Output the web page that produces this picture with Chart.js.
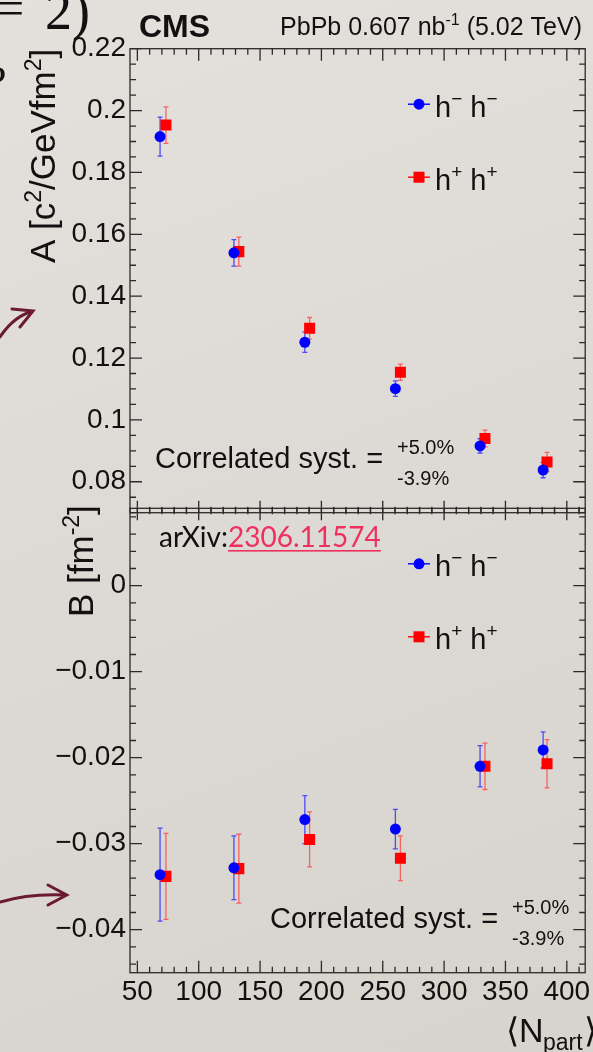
<!DOCTYPE html>
<html>
<head>
<meta charset="utf-8">
<script src="https://cdn.jsdelivr.net/npm/chart.js@4.4.0/dist/chart.umd.min.js"></script>
<style>
  html, body { margin: 0; padding: 0; }
  body {
    width: 593px; height: 1052px; overflow: hidden; position: relative;
    background: linear-gradient(160deg, #e4e1dd 0%, #dddad5 50%, #d7d4ce 100%);
  }
  canvas { position: absolute; left: 0; top: 0; }
</style>
</head>
<body>
<canvas id="panelA" width="593" height="1052"></canvas>
<canvas id="panelB" width="593" height="1052"></canvas>
<script>
// <Npart> of each centrality bin, h+h+ points drawn a little to the right
const npartMinus = [68.5, 128.7, 186.5, 260.3, 329.3, 380.7];
const npartPlus = [73.3, 132.7, 190.4, 264.4, 333.3, 383.9];

// Levy fit parameter A [c^2/GeV fm^2]
const aMinus = [0.1916, 0.1540, 0.1251, 0.1101, 0.0916, 0.0838];
const aMinusErr = [0.0063, 0.0043, 0.0033, 0.0025, 0.0023, 0.0025];
const aPlus = [0.1953, 0.1544, 0.1296, 0.1154, 0.0940, 0.0864];
const aPlusErr = [0.0059, 0.0047, 0.0035, 0.0026, 0.0027, 0.0031];

// Levy fit parameter B [fm^-2]
const bMinus = [-0.0336, -0.0328, -0.0272, -0.0283, -0.0210, -0.0191];
const bMinusErr = [0.0054, 0.0037, 0.0028, 0.0023, 0.0024, 0.0021];
const bPlus = [-0.0338, -0.0329, -0.0295, -0.0317, -0.0210, -0.0207];
const bPlusErr = [0.0050, 0.0040, 0.0032, 0.0026, 0.0027, 0.0028];

const nTicks = [50, 100, 150, 200, 250, 300, 350, 400];
const aTicks = [0.08, 0.1, 0.12, 0.14, 0.16, 0.18, 0.2, 0.22];
const bTicks = [-0.04, -0.03, -0.02, -0.01, 0];

const SANS = '"Liberation Sans", Arial, sans-serif';
const INK = '#111';
const BLUE = '#0000ff';
const RED = '#ff0000';

function points(xs, ys) {
  return xs.map((x, i) => ({ x: x, y: ys[i] }));
}

// draws a run of text pieces [text, size, rise, weight] and returns end x
function runText(ctx, x, y, parts, measureOnly) {
  let cx = x;
  parts.forEach(([t, size, rise = 0, weight = '']) => {
    ctx.font = `${weight} ${size}px ${SANS}`;
    if (!measureOnly) ctx.fillText(t, cx, y - rise);
    cx += ctx.measureText(t).width;
  });
  return cx;
}

function seg(ctx, x1, y1, x2, y2) {
  ctx.moveTo(x1, y1);
  ctx.lineTo(x2, y2);
}

// vertical error bars with small caps, drawn under the markers
const errorBars = {
  id: 'errorBars',
  beforeDatasetsDraw(chart) {
    const { ctx, scales: { x, y } } = chart;
    chart.data.datasets.forEach(ds => {
      ctx.save();
      ctx.strokeStyle = ds.errorColor;
      ctx.lineWidth = 1.3;
      ctx.beginPath();
      ds.data.forEach((p, j) => {
        const px = x.getPixelForValue(p.x);
        const hi = y.getPixelForValue(p.y + ds.errors[j]);
        const lo = y.getPixelForValue(p.y - ds.errors[j]);
        seg(ctx, px, hi, px, lo);
        seg(ctx, px - 2.5, hi, px + 2.5, hi);
        seg(ctx, px - 2.5, lo, px + 2.5, lo);
      });
      ctx.stroke();
      ctx.restore();
    });
  }
};

// ROOT style frame: ticks inside on all four sides
const frame = {
  id: 'frame',
  afterDatasetsDraw(chart, args, opts) {
    const { ctx, chartArea: a, scales: { x, y } } = chart;
    ctx.save();
    ctx.strokeStyle = '#2a2a2a';
    ctx.lineWidth = 1.3;
    ctx.strokeRect(a.left, a.top, a.right - a.left, a.bottom - a.top);
    ctx.beginPath();
    for (let v = 50; v <= x.max; v += 10) {
      const px = x.getPixelForValue(v);
      const len = v % 50 === 0 ? 12 : 6;
      seg(ctx, px, a.top, px, a.top + len);
      seg(ctx, px, a.bottom, px, a.bottom - len);
    }
    const n0 = Math.ceil(y.min / opts.minor - 1e-6);
    const n1 = Math.floor(y.max / opts.minor + 1e-6);
    for (let n = n0; n <= n1; n++) {
      const py = y.getPixelForValue(n * opts.minor);
      const len = n % opts.every === 0 ? 12 : 6;
      seg(ctx, a.left, py, a.left + len, py);
      seg(ctx, a.right, py, a.right - len, py);
    }
    ctx.stroke();
    ctx.restore();
  }
};

// legend entries and texts placed inside each pad
const labels = {
  id: 'labels',
  afterDraw(chart, args, opts) {
    const { ctx, chartArea: a } = chart;
    ctx.save();
    ctx.fillStyle = INK;
    ctx.textBaseline = 'alphabetic';
    // legend
    [[BLUE, 'circle', '\u2212', 55.5], [RED, 'rect', '+', 128.5]].forEach(([c, shape, sign, dy]) => {
      const my = a.top + dy;
      ctx.strokeStyle = c;
      ctx.lineWidth = 1.4;
      ctx.beginPath();
      seg(ctx, 408, my, 430, my);
      ctx.stroke();
      ctx.fillStyle = c;
      ctx.beginPath();
      if (shape === 'circle') ctx.arc(419, my, 5.5, 0, Math.PI * 2);
      else ctx.rect(413.5, my - 5.5, 11, 11);
      ctx.fill();
      ctx.fillStyle = INK;
      runText(ctx, 435, my + 12.5, [['h', 29], [sign, 19, 12], [' h', 29], [sign, 19, 12]]);
    });
    // correlated systematic
    const s = opts.syst;
    runText(ctx, s.x, s.y, [['Correlated syst. =', 29]]);
    runText(ctx, s.x + 242, s.y - 14, [['+5.0%', 20]]);
    runText(ctx, s.x + 242, s.y + 17, [['-3.9%', 20]]);
    if (opts.draw) opts.draw(ctx, a);
    ctx.restore();
  }
};

function arrow(ctx, from, ctrl, tip, barbA, barbB) {
  ctx.beginPath();
  ctx.moveTo(from[0], from[1]);
  ctx.quadraticCurveTo(ctrl[0], ctrl[1], tip[0], tip[1]);
  ctx.moveTo(barbA[0], barbA[1]);
  ctx.lineTo(tip[0], tip[1]);
  ctx.lineTo(barbB[0], barbB[1]);
  ctx.stroke();
}

function yAxis(min, max, tickValues, fmt) {
  return {
    min: min,
    max: max,
    afterBuildTicks: s => { s.ticks = tickValues.map(v => ({ value: v })); },
    afterFit: s => { s.width = 130; s.paddingTop = 0; s.paddingBottom = 0; },
    grid: { display: false, drawTicks: false },
    border: { display: false },
    ticks: { color: INK, padding: 4, font: { family: SANS, size: 28 }, callback: fmt }
  };
}

function xAxis(show) {
  return {
    type: 'linear',
    min: 44,
    max: 415,
    display: show,
    afterBuildTicks: s => { s.ticks = nTicks.map(v => ({ value: v })); },
    afterFit: s => { s.height = show ? 79.3 : 0; s.paddingLeft = 0; s.paddingRight = 0; },
    grid: { display: false, drawTicks: false },
    border: { display: false },
    ticks: { color: INK, padding: 3, autoSkip: false, maxRotation: 0, font: { family: SANS, size: 28 } }
  };
}

function datasets(ys, ysErr, yp, ypErr) {
  return [
    {
      label: 'h\u2212 h\u2212',
      data: points(npartMinus, ys),
      errors: ysErr,
      errorColor: 'rgba(40, 40, 255, 0.8)',
      pointStyle: 'circle',
      pointRadius: 5.5,
      pointBackgroundColor: BLUE,
      pointBorderWidth: 0
    },
    {
      label: 'h+ h+',
      data: points(npartPlus, yp),
      errors: ypErr,
      errorColor: 'rgba(255, 60, 60, 0.75)',
      pointStyle: 'rect',
      pointRadius: 7.8,
      pointBackgroundColor: RED,
      pointBorderWidth: 0
    }
  ];
}

const common = {
  responsive: false,
  animation: false,
  events: [],
  plugins: { legend: { display: false }, tooltip: { enabled: false } }
};

new Chart(document.getElementById('panelA'), {
  type: 'scatter',
  data: { datasets: datasets(aMinus, aMinusErr, aPlus, aPlusErr) },
  options: {
    ...common,
    layout: { padding: { top: 48.7, left: 0, right: 1, bottom: 1052 - 512.7 } },
    scales: {
      x: xAxis(false),
      y: yAxis(0.07, 0.22, aTicks, v => String(v))
    },
    plugins: {
      ...common.plugins,
      frame: { minor: 0.005, every: 4 },
      labels: {
        syst: { x: 155, y: 468 },
        draw(ctx) {
          // header
          runText(ctx, 139, 37, [['CMS', 32, 0, 'bold']]);
          const lumi = [['PbPb 0.607 nb', 25], ['-1', 16, 10], [' (5.02 TeV)', 25]];
          const w = runText(ctx, 0, 0, lumi, true);
          runText(ctx, 582 - w, 35, lumi);
          // y title of the upper pad
          ctx.save();
          ctx.translate(55, 263);
          ctx.rotate(-Math.PI / 2);
          runText(ctx, 0, 0, [['A [c', 35], ['2', 23, 14], ['/GeVfm', 35], ['2', 23, 14], [']', 35]]);
          ctx.restore();
          // bits of the slide around the figure
          ctx.font = '50px "Liberation Serif", serif';
          ctx.fillText('=', -4, 25);
          ctx.font = '54px "Liberation Serif", serif';
          ctx.fillText('2)', 45, 29);
          ctx.font = '44px "Liberation Serif", serif';
          ctx.fillText('?', -13, 96);
          ctx.strokeStyle = '#6b1a33';
          ctx.lineWidth = 3;
          ctx.lineCap = 'round';
          arrow(ctx, [0, 337], [14, 316], [33, 311], [12, 309], [20, 327]);
          arrow(ctx, [0, 902], [30, 893], [66.7, 895], [48, 885], [48, 905]);
        }
      }
    }
  },
  plugins: [errorBars, frame, labels]
});

new Chart(document.getElementById('panelB'), {
  type: 'scatter',
  data: { datasets: datasets(bMinus, bMinusErr, bPlus, bPlusErr) },
  options: {
    ...common,
    layout: { padding: { top: 508.3, left: 0, right: 1, bottom: 0 } },
    scales: {
      x: xAxis(true),
      y: yAxis(-0.045, 0.009, bTicks, v => (v === 0 ? '0' : '\u2212' + Math.abs(v)))
    },
    plugins: {
      ...common.plugins,
      frame: { minor: 0.002, every: 5 },
      labels: {
        syst: { x: 270, y: 928 },
        draw(ctx) {
          // y title of the lower pad
          ctx.save();
          ctx.translate(93, 617);
          ctx.rotate(-Math.PI / 2);
          runText(ctx, 0, 0, [['B [fm', 35], ['-2', 23, 14], [']', 35]]);
          ctx.restore();
          // x title
          runText(ctx, 506, 1041.7, [['\u27e8N', 34]]);
          runText(ctx, 543, 1050, [['part', 23]]);
          runText(ctx, 584, 1041.7, [['\u27e9', 34]]);
          // preprint reference
          ctx.font = '28px Lato, sans-serif';
          ctx.fillText('arXiv:', 159, 546.7);
          const x0 = 159 + ctx.measureText('arXiv:').width;
          const ref = '2306.11574';
          ctx.fillStyle = '#ef2f5e';
          ctx.fillText(ref, x0, 546.7);
          ctx.fillRect(x0, 550, ctx.measureText(ref).width, 1.6);
        }
      }
    }
  },
  plugins: [errorBars, frame, labels]
});
</script>
</body>
</html>
